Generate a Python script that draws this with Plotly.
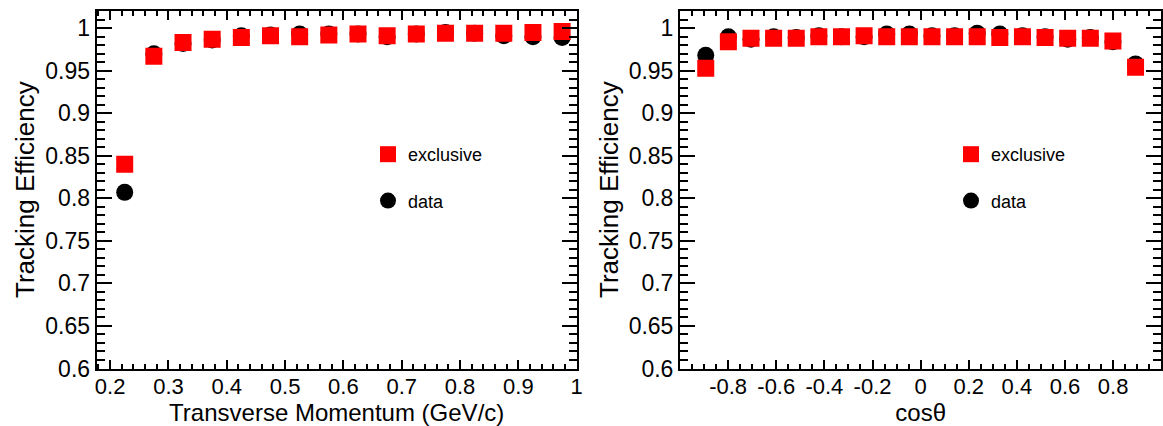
import plotly.graph_objects as go

# ---- data ----
pt_x = [0.225, 0.275, 0.325, 0.375, 0.425, 0.475, 0.525, 0.575,
        0.625, 0.675, 0.725, 0.775, 0.825, 0.875, 0.925, 0.975]
pt_exclusive = [0.840, 0.967, 0.983, 0.987, 0.989, 0.991, 0.990, 0.992,
                0.993, 0.991, 0.993, 0.994, 0.994, 0.994, 0.995, 0.996]
pt_data = [0.807, 0.970, 0.982, 0.986, 0.991, 0.992, 0.993, 0.993,
           0.993, 0.990, 0.993, 0.995, 0.994, 0.991, 0.990, 0.989]

cos_x = [-0.893, -0.799, -0.705, -0.611, -0.517, -0.423, -0.329, -0.235,
         -0.141, -0.047, 0.047, 0.141, 0.235, 0.329, 0.423, 0.517,
         0.611, 0.705, 0.799, 0.893]
cos_exclusive = [0.953, 0.984, 0.988, 0.988, 0.988, 0.990, 0.990, 0.991,
                 0.990, 0.990, 0.990, 0.990, 0.990, 0.989, 0.990, 0.989,
                 0.988, 0.988, 0.985, 0.954]
cos_data = [0.968, 0.990, 0.987, 0.990, 0.989, 0.991, 0.990, 0.990,
            0.993, 0.993, 0.991, 0.991, 0.994, 0.993, 0.991, 0.990,
            0.987, 0.989, 0.984, 0.958]

y_tickvals = [0.6, 0.65, 0.7, 0.75, 0.8, 0.85, 0.9, 0.95, 1.0]
y_ticktext = ["0.6", "0.65", "0.7", "0.75", "0.8", "0.85", "0.9", "0.95", "1"]
pt_tickvals = [0.2, 0.3, 0.4, 0.5, 0.6, 0.7, 0.8, 0.9, 1.0]
pt_ticktext = ["0.2", "0.3", "0.4", "0.5", "0.6", "0.7", "0.8", "0.9", "1"]
cos_tickvals = [-0.8, -0.6, -0.4, -0.2, 0.0, 0.2, 0.4, 0.6, 0.8]
cos_ticktext = ["-0.8", "-0.6", "-0.4", "-0.2", "0", "0.2", "0.4", "0.6", "0.8"]

FONT = "Liberation Sans, Arial, Helvetica, sans-serif"
RED = "#ff0000"
BLACK = "#000000"
MS = 17

fig = go.Figure()

# left panel
fig.add_trace(go.Scatter(x=pt_x, y=pt_data, mode="markers", name="data",
                         marker=dict(symbol="circle", size=MS, color=BLACK),
                         xaxis="x", yaxis="y", legend="legend",
                         legendgroup="d1", legendrank=2))
fig.add_trace(go.Scatter(x=pt_x, y=pt_exclusive, mode="markers", name="exclusive",
                         marker=dict(symbol="square", size=MS, color=RED),
                         xaxis="x", yaxis="y", legend="legend",
                         legendgroup="e1", legendrank=1))
# right panel
fig.add_trace(go.Scatter(x=cos_x, y=cos_data, mode="markers", name="data",
                         marker=dict(symbol="circle", size=MS, color=BLACK),
                         xaxis="x2", yaxis="y2", legend="legend2",
                         legendgroup="d2", legendrank=2))
fig.add_trace(go.Scatter(x=cos_x, y=cos_exclusive, mode="markers", name="exclusive",
                         marker=dict(symbol="square", size=MS, color=RED),
                         xaxis="x2", yaxis="y2", legend="legend2",
                         legendgroup="e2", legendrank=1))

W, H = 1163, 426

def xaxis(domain, rng, tv, tt, dminor, title):
    return dict(domain=domain, range=rng, tickmode="array", tickvals=tv, ticktext=tt,
                ticks="inside", ticklen=9, tickwidth=2, tickcolor="black",
                minor=dict(ticks="inside", ticklen=5, tickwidth=2, tickcolor="black",
                           dtick=dminor, tick0=0),
                showline=True, linewidth=2, linecolor="black", mirror="allticks",
                showgrid=False, zeroline=False, automargin=False,
                ticklabelstandoff=-3,
                tickfont=dict(family=FONT, size=22, color="black"),
                title=dict(text=title, font=dict(family=FONT, size=24, color="black"),
                           standoff=9))

def yaxis(anchor):
    return dict(domain=[1 - 368.5 / H, 1 - 10.7 / H], range=[0.6, 1.0205],
                anchor=anchor, tickmode="array", tickvals=y_tickvals, ticktext=y_ticktext,
                ticks="inside", ticklen=15, tickwidth=2, tickcolor="black",
                minor=dict(ticks="inside", ticklen=8, tickwidth=2, tickcolor="black",
                           dtick=0.01, tick0=0),
                showline=True, linewidth=2, linecolor="black", mirror="allticks",
                showgrid=False, zeroline=False, automargin=False,
                tickfont=dict(family=FONT, size=23, color="black"),
                title=dict(text="Tracking Efficiency",
                           font=dict(family=FONT, size=26, color="black"), standoff=3))

fig.update_layout(
    width=W, height=H, margin=dict(l=0, r=0, t=0, b=0),
    paper_bgcolor="white", plot_bgcolor="white",
    xaxis=xaxis([96.7 / W, 576.7 / W], [0.177, 1.0], pt_tickvals, pt_ticktext, 0.02,
                "Transverse Momentum (GeV/c)") | dict(anchor="y"),
    yaxis=yaxis("x"),
    xaxis2=xaxis([680 / W, 1161.3 / W], [-1.0, 1.0], cos_tickvals, cos_ticktext, 0.05,
                 "cosθ") | dict(anchor="y2"),
    yaxis2=yaxis("x2"),
    legend=dict(x=(388 - 20) / W, y=1 - 136 / H, xanchor="left", yanchor="top",
                bgcolor="rgba(0,0,0,0)", tracegroupgap=20,
                font=dict(family=FONT, size=18, color="black")),
    legend2=dict(x=(971 - 20) / W, y=1 - 136 / H, xanchor="left", yanchor="top",
                 bgcolor="rgba(0,0,0,0)", tracegroupgap=20,
                 font=dict(family=FONT, size=18, color="black")),
)

fig.write_html("out.html")
